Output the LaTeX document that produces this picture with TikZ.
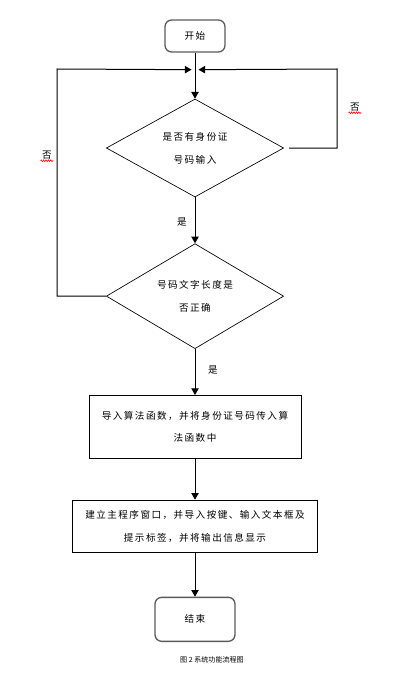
\documentclass[tikz,border=0pt]{standalone}
\usepackage{fontspec}
\usepackage{tikz}
\usetikzlibrary{arrows.meta,positioning,calc,shapes.geometric,decorations.pathmorphing}
\newfontfamily\cjk[LetterSpace=15]{Noto Sans CJK SC}
\newfontfamily\cjkcap{Noto Sans CJK SC}
\definecolor{edgegray}{RGB}{90,90,90}
\tikzset{
  termbox/.style={draw=edgegray, rounded corners=5pt, line width=1pt,
    minimum width=45pt, minimum height=24pt, align=center},
  decision/.style={diamond, draw, line width=0.5pt, aspect=1.8, inner sep=0pt,
    minimum width=133pt, align=center},
  procbox/.style={draw, line width=0.75pt, align=center},
  flow/.style={-{Triangle[length=5pt,width=5.5pt]}, line width=0.75pt},
  loopline/.style={line width=0.75pt},
  lbl/.style={inner sep=1pt},
  spell/.style={red, line width=0.4pt, decorate,
    decoration={zigzag, amplitude=0.7pt, segment length=1.8pt}}
}

\begin{document}
\begin{tikzpicture}[x=0.75pt, y=-0.75pt, node distance=34.5pt,
  every node/.style={font=\cjk\fontsize{7.2}{17}\selectfont}]
\useasboundingbox (0,0) rectangle (411,674);

\node[termbox] (start) at (195,36) {开始};
\node[decision, minimum height=73.5pt, below=of start] (chkid) {是否有身份证\\号码输入};
\node[decision, minimum height=78.75pt, below=of chkid] (chklen) {号码文字长度是\\否正确};
\node[procbox, minimum width=159pt, minimum height=47pt, below=of chklen] (algo)
  {导入算法函数，并将身份证号码传入算\\法函数中};
\node[procbox, minimum width=184pt, minimum height=39pt, below=30.75pt of algo] (win)
  {建立主程序窗口，并导入按键、输入文本框及\\提示标签，并将输出信息显示};
\node[termbox, minimum width=60pt, minimum height=33pt, below=33pt of win] (stop) {结束};
\node[font=\cjkcap\fontsize{5.3}{6}\selectfont] (cap) at (212,660) {图 2 系统功能流程图};

% merge point of both loops
\coordinate (mrg) at ($(start.south)!0.37!(chkid.north)$);
\coordinate (lcol) at (57,69);
\coordinate (rcol) at (337,69);

\draw[flow] (start) -- (chkid);
\draw[flow] (chkid) -- (chklen);
\draw[flow] (chklen) -- (algo);
\draw[flow] (algo) -- (win);
\draw[flow] (win) -- (stop);

\draw[flow] ([xshift=3.75pt]chkid.east) -| (rcol) -- ([xshift=2.6pt]mrg);
\draw[flow] (chklen.west) -| (lcol) -- ([xshift=-2.6pt]mrg);

\node[lbl] (yes1) at (182,222) {是};
\node[lbl] (yes2) at (213,370) {是};
\node[lbl] (no1) at (355,107) {否};
\node[lbl] (no2) at (47,155) {否};
\draw[spell] (no1.south west) -- (no1.south east);
\draw[spell] (no2.south west) -- (no2.south east);
\end{tikzpicture}
\end{document}
